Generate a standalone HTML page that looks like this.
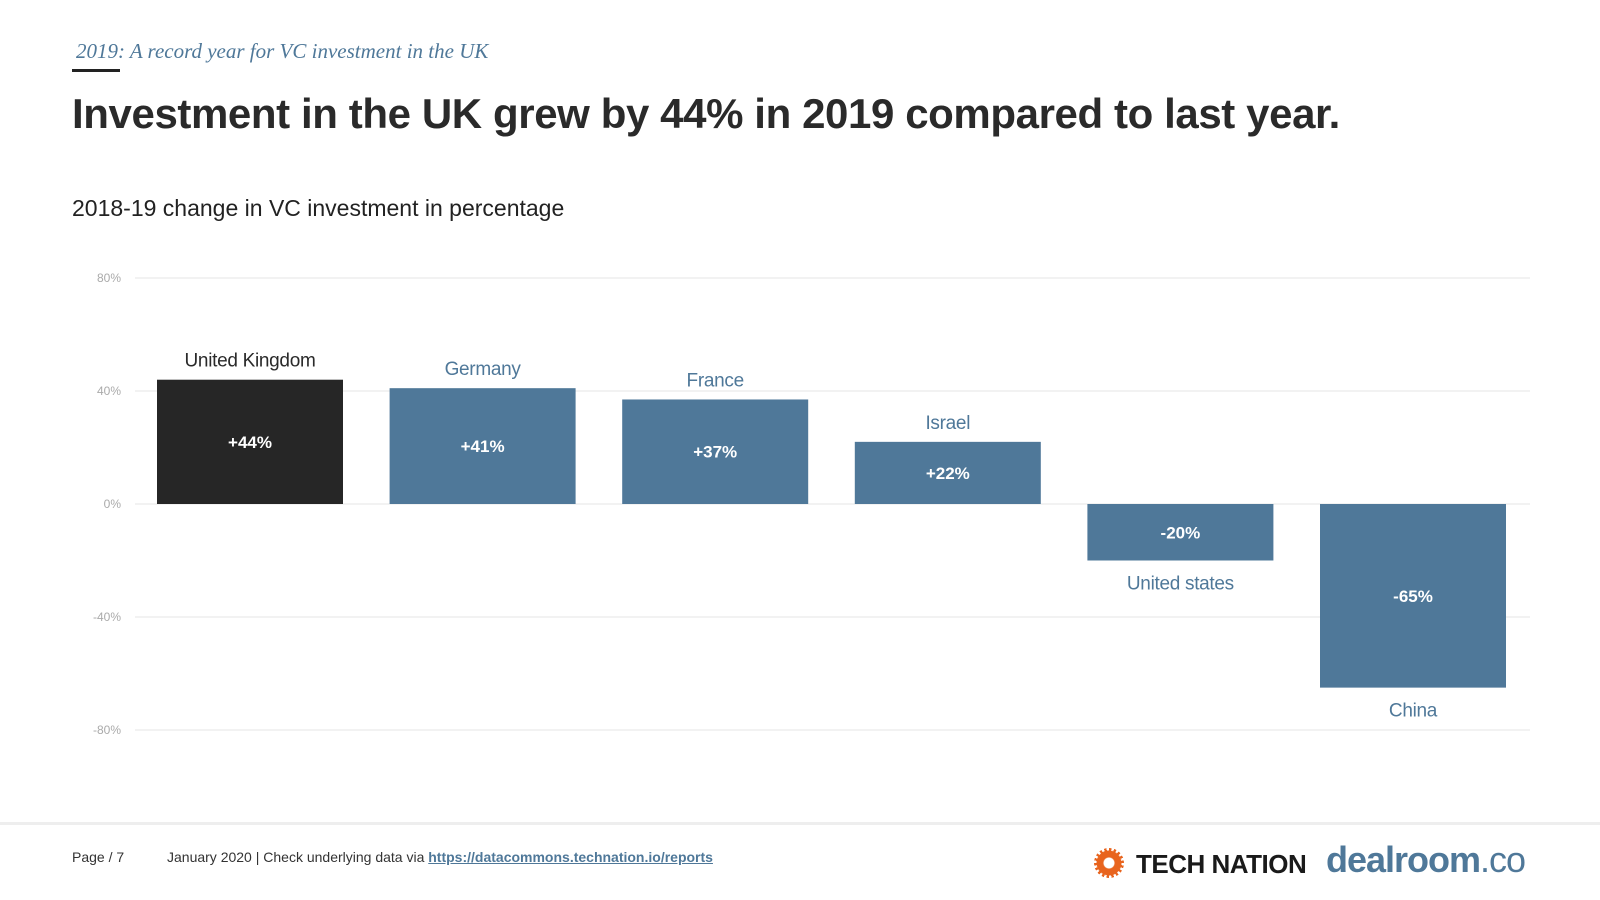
<!DOCTYPE html>
<html><head><meta charset="utf-8"><style>
body{margin:0;width:1600px;height:900px;background:#fff;font-family:"Liberation Sans",sans-serif;position:relative;overflow:hidden}
.kicker{position:absolute;left:76px;top:39px;font-family:"Liberation Serif",serif;font-style:italic;font-size:21px;color:#4f7899}
.kline{position:absolute;left:72px;top:69px;width:48px;height:3px;background:#222}
h1{position:absolute;left:72px;top:90px;margin:0;font-size:42px;font-weight:bold;color:#2a2a2a;letter-spacing:-0.4px}
.sub{position:absolute;left:72px;top:195px;font-size:23px;color:#222}
.foot{position:absolute;left:0;top:822px;width:1600px;height:3px;background:#eee}
.ft{position:absolute;top:849px;font-size:14px;color:#333}
.ft a{color:#4f7899;font-weight:bold;text-decoration:underline}
</style></head><body>
<div class="kicker">2019: A record year for VC investment in the UK</div>
<div class="kline"></div>
<h1>Investment in the UK grew by 44% in 2019 compared to last year.</h1>
<div class="sub">2018-19 change in VC investment in percentage</div>
<svg id="chart" width="1600" height="900" style="position:absolute;left:0;top:0"></svg>
<div class="foot"></div>
<div class="ft" style="left:72px">Page / 7</div>
<div class="ft" style="left:167px">January 2020 | Check underlying data via <a>https://datacommons.technation.io/reports</a></div>
<div style="position:absolute;left:1094px;top:848px;width:30px;height:30px;border-radius:50%;background:radial-gradient(circle,#fff 0 5px,#e8641e 6px 12px,transparent 13px),repeating-conic-gradient(#e8641e 0 10deg,transparent 10deg 20deg)"></div>
<div style="position:absolute;left:1136px;top:849px;font-size:26px;font-weight:bold;color:#1a1a1a;letter-spacing:-0.5px">TECH NATION</div>
<div style="position:absolute;left:1326px;top:839px;font-size:36px;font-weight:bold;color:#4f7899;letter-spacing:-1px">dealroom<span style="font-weight:normal">.co</span></div>
<script>
const categories=["United Kingdom","Germany","France","Israel","United states","China"];
const values=[44,41,37,22,-20,-65];
const valueLabels=["+44%","+41%","+37%","+22%","-20%","-65%"];
const ticks=[80,40,0,-40,-80];
const ns="http://www.w3.org/2000/svg",svg=document.getElementById('chart');
const y=v=>504-(v/40)*113;
const x=i=>157+i*232.6;const bw=186;
function mk(t,a,txt){const e=document.createElementNS(ns,t);for(const k in a)e.setAttribute(k,a[k]);if(txt!=null)e.textContent=txt;svg.appendChild(e);return e;}
ticks.forEach(t=>{
 const l=mk('line',{x1:135,x2:1530,y1:y(t),y2:y(t),stroke:'#eee','stroke-width':1.5});
 
 
 const tx=mk('text',{x:121,y:y(t)+4,'text-anchor':'end','font-size':12,fill:'#aaa'},t+'%');
 
 
});
values.forEach((v,i)=>{
 const top=Math.min(y(v),y(0)),h=Math.abs(y(v)-y(0));
 const r=mk('rect',{x:x(i),y:top,width:bw,height:h,fill:i==0?'#262626':'#4f7899'});
 
 
 const vl=mk('text',{x:x(i)+bw/2,y:top+h/2+6,'text-anchor':'middle','font-size':17,'font-weight':'bold',fill:'#fff'},valueLabels[i]);
 
 
 const ly=v>=0?top-13:top+h+29;
 const cl=mk('text',{x:x(i)+bw/2,y:ly,'text-anchor':'middle','font-size':19,fill:i==0?'#2a2a2a':'#4f7899','letter-spacing':'-0.3'},categories[i]);
 
 
});
</script>
</body></html>
